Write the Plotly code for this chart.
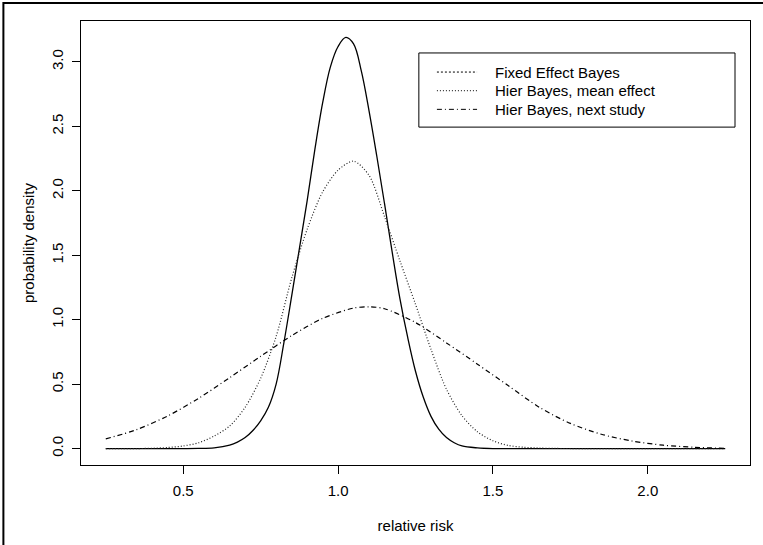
import plotly.graph_objects as go

# relative risk grid (x) and densities
x_fixed = [0.25, 0.30, 0.35, 0.40, 0.45, 0.50, 0.55, 0.60, 0.65, 0.675, 0.70, 0.725, 0.75, 0.775, 0.80,
           0.825, 0.85, 0.875, 0.90, 0.925, 0.95, 0.975, 1.00, 1.025, 1.05, 1.075, 1.10, 1.125, 1.15,
           1.175, 1.20, 1.225, 1.25, 1.275, 1.30, 1.325, 1.35, 1.375, 1.40, 1.45, 1.50,
           1.60, 1.70, 1.80, 1.90, 2.00, 2.10, 2.20, 2.25]
y_fixed = [0.0, 0.0, 0.0, 0.0, 0.0, 0.0, 0.001, 0.006, 0.027, 0.05, 0.085, 0.14, 0.215, 0.32, 0.50,
           0.82, 1.18, 1.55, 1.92, 2.32, 2.68, 2.96, 3.12, 3.19, 3.14, 2.93, 2.62, 2.27, 1.90,
           1.52, 1.16, 0.86, 0.60, 0.40, 0.25, 0.15, 0.085, 0.045, 0.02, 0.005, 0.0,
           0.0, 0.0, 0.0, 0.0, 0.0, 0.0, 0.0, 0.0]

x_mean = [0.25, 0.30, 0.35, 0.40, 0.45, 0.50, 0.55, 0.60, 0.65, 0.70, 0.75, 0.80, 0.85, 0.90,
          0.95, 1.00, 1.05, 1.10, 1.15, 1.20, 1.25, 1.30, 1.35, 1.40, 1.45, 1.50, 1.55,
          1.60, 1.65, 1.70, 1.80, 1.90, 2.00, 2.10, 2.20, 2.25]
y_mean = [0.0, 0.0, 0.0, 0.002, 0.008, 0.02, 0.045, 0.097, 0.175, 0.32, 0.545, 0.87, 1.32, 1.70,
          1.99, 2.16, 2.23, 2.12, 1.80, 1.455, 1.12, 0.77, 0.46, 0.255, 0.13, 0.06, 0.024,
          0.01, 0.004, 0.001, 0.0, 0.0, 0.0, 0.0, 0.0, 0.0]

x_next = [0.25, 0.35, 0.45, 0.55, 0.65, 0.75, 0.85, 0.95, 1.05, 1.10, 1.15, 1.25, 1.35, 1.45,
          1.55, 1.65, 1.75, 1.85, 1.95, 2.05, 2.15, 2.25]
y_next = [0.075, 0.147, 0.253, 0.39, 0.55, 0.716, 0.876, 1.01, 1.09, 1.10, 1.085, 0.978, 0.82, 0.655,
          0.487, 0.32, 0.195, 0.111, 0.058, 0.026, 0.010, 0.002]

legend_labels = ["Fixed Effect Bayes", "Hier Bayes, mean effect", "Hier Bayes, next study"]
x_ticks = [0.5, 1.0, 1.5, 2.0]
y_ticks = [0.0, 0.5, 1.0, 1.5, 2.0, 2.5, 3.0]

FONT = "Liberation Sans, Arial, Helvetica, sans-serif"

fig = go.Figure()
fig.add_trace(go.Scatter(x=x_fixed, y=y_fixed, mode="lines", line=dict(color="black", width=1.3, shape="spline", smoothing=1.0), showlegend=False))
fig.add_trace(go.Scatter(x=x_mean, y=y_mean, mode="lines", line=dict(color="#222", width=1.2, dash="1px,2px", shape="spline", smoothing=0.8), showlegend=False))
fig.add_trace(go.Scatter(x=x_next, y=y_next, mode="lines", line=dict(color="black", width=1.2, dash="5px,3px,1px,3px", shape="spline", smoothing=0.8), showlegend=False))

axis_common = dict(showgrid=False, zeroline=False, showline=True, linecolor="black", linewidth=1,
                   mirror=True, ticks="outside", ticklen=8, tickcolor="black",
                   tickfont=dict(family=FONT, size=15, color="black"))

fig.update_layout(
    width=763, height=545,
    margin=dict(l=81, r=13, t=21, b=80),
    paper_bgcolor="white", plot_bgcolor="white",
    font=dict(family=FONT, size=15, color="black"),
    xaxis=dict(range=[0.17, 2.33], tickvals=x_ticks, ticktext=[f"{v:.1f}" for v in x_ticks],
               ticklabelstandoff=4,
               title=dict(text="relative risk", font=dict(family=FONT, size=15), standoff=22), **axis_common),
    yaxis=dict(range=[-0.1276, 3.3176], tickvals=y_ticks, ticktext=[f"{v:.1f}" for v in y_ticks],
               tickangle=-90, ticklabelstandoff=3,
               title=dict(text="probability density", font=dict(family=FONT, size=15), standoff=10), **axis_common),
)

# outer frame
fig.add_shape(type="rect", xref="paper", yref="paper", x0=-0.116, y0=-0.4, x1=1.1, y1=1.0405,
              line=dict(color="black", width=2), layer="above")

# legend box drawn manually
fig.add_shape(type="rect", xref="paper", yref="paper", x0=0.505, y0=0.761, x1=0.9776, y1=0.928,
              line=dict(color="black", width=1), fillcolor="white", layer="above")
rows = [0.885, 0.843, 0.801]
dashes = ["2px,2px", "1px,2px", "5px,3px,1px,3px"]
for lab, yy, d in zip(legend_labels, rows, dashes):
    fig.add_shape(type="line", xref="paper", yref="paper", x0=0.532, x1=0.592, y0=yy, y1=yy,
                  line=dict(color="black", width=1, dash=d), layer="above")
    fig.add_annotation(xref="paper", yref="paper", x=0.6155, y=yy, text=lab, showarrow=False,
                       xanchor="left", yanchor="middle", font=dict(family=FONT, size=15, color="black"))

fig.write_html("out.html")
